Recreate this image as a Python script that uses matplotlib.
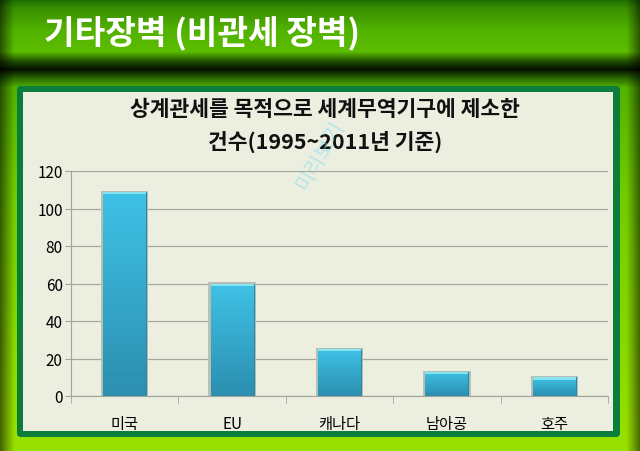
import matplotlib
matplotlib.use("Agg")
import matplotlib.pyplot as plt
import numpy as np
from matplotlib.patches import FancyBboxPatch, Rectangle

plt.rcParams['font.family'] = ['Noto Sans CJK KR', 'DejaVu Sans']

# data
countries = ['미국', 'EU', '캐나다', '남아공', '호주']
cases = [109, 60, 25, 13, 10]
yticks = [0, 20, 40, 60, 80, 100, 120]

page_title = '기타장벽 (비관세 장벽)'
chart_title = '상계관세를 목적으로 세계무역기구에 제소한\n건수(1995~2011년 기준)'

W, H = 640, 452
fig = plt.figure(figsize=(W / 100, H / 100), dpi=100)

# background gradient (green slide)
bg = fig.add_axes([0, 0, 1, 1])
bg.set_xlim(0, W)
bg.set_ylim(H, 0)
bg.axis('off')

ys = np.arange(H)
stops_y = [0, 8, 30, 52, 62, 70, 78, 88, 200, 452]
stops_c = np.array([
    [0.10, 0.42, 0.00],
    [0.22, 0.55, 0.00],
    [0.32, 0.70, 0.00],
    [0.36, 0.74, 0.00],
    [0.12, 0.30, 0.00],
    [0.02, 0.06, 0.00],
    [0.15, 0.38, 0.00],
    [0.33, 0.70, 0.00],
    [0.45, 0.80, 0.00],
    [0.60, 0.88, 0.00],
])
col = np.stack([np.interp(ys, stops_y, stops_c[:, k]) for k in range(3)], axis=1)
xs = np.arange(W)
edge = np.interp(xs, [0, 6, 14, 626, 634, 640], [0.45, 0.7, 1.0, 1.0, 0.7, 0.45])
img = col[:, None, :] * edge[None, :, None]
bg.imshow(np.clip(img, 0, 1), extent=(0, W, H, 0), aspect='auto', zorder=0)

bg.text(44, 33, page_title, color='white', fontsize=24, fontweight='bold',
        va='center', ha='left')

# panel frame
bg.add_patch(FancyBboxPatch((17, 87), 603, 351, boxstyle='round,pad=0,rounding_size=4',
                            facecolor='#0b7d3b', edgecolor='none', zorder=1))
bg.add_patch(Rectangle((23, 93), 590, 339, facecolor='#eceee0', edgecolor='none', zorder=2))

bg.text(325, 126, chart_title, ha='center', va='center', fontsize=15.5,
        fontweight='bold', color='#111111', linespacing=1.55, zorder=3)
bg.text(320, 155, '미리보기', rotation=60, ha='center', va='center', fontsize=15,
        color='#7fe0ee', alpha=0.5, zorder=3)

# chart
ax = fig.add_axes([71 / W, 1 - 397 / H, (608 - 71) / W, (397 - 172) / H])
ax.patch.set_alpha(0)
x = np.arange(len(countries))
bars = ax.bar(x, cases, width=0.4, color='#3bb8dc', edgecolor='#2a86a6',
              linewidth=0.8, zorder=3)
grad = np.linspace(0, 1, 100)[:, None]
cmap = matplotlib.colors.LinearSegmentedColormap.from_list('b', ['#2c8fb0', '#3fc2e6'])
for b in bars:
    x0, w, h = b.get_x(), b.get_width(), b.get_height()
    im = ax.imshow(grad, extent=(x0, x0 + w, 0, h), origin='lower', cmap=cmap,
                   aspect='auto', zorder=3.5)
    im.set_clip_path(b)
    ax.add_patch(Rectangle((x0, h - 1.2), w, 1.2, facecolor='#86e3f2',
                           edgecolor='none', zorder=4))
    ax.add_patch(Rectangle((x0 - 0.02, 0), w + 0.04, h + 0.6, facecolor='#b9c2b4',
                           edgecolor='none', zorder=2))

ax.set_xlim(-0.5, len(countries) - 0.5)
ax.set_ylim(0, 120)
ax.set_yticks(yticks)
ax.set_xticks(x)
ax.set_xticklabels(countries, fontsize=11)
ax.set_xticks(np.arange(-0.5, len(countries)), minor=True)
ax.tick_params(axis='x', which='major', length=0, pad=14)
ax.tick_params(axis='x', which='minor', length=5, color='#a0a49a')
ax.tick_params(axis='y', length=4, color='#a0a49a', labelsize=11, pad=2)
ax.grid(axis='y', color='#a5a99f', linewidth=0.9, zorder=0)
ax.set_axisbelow(True)
for s in ['top', 'right']:
    ax.spines[s].set_visible(False)
for s in ['left', 'bottom']:
    ax.spines[s].set_color('#a0a49a')

fig.savefig('out.png', dpi=100)
